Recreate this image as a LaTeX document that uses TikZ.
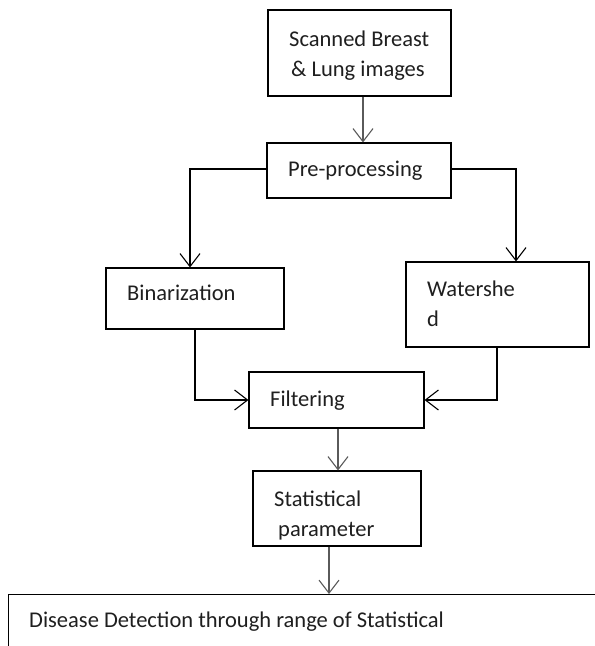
\documentclass[tikz,border=0pt]{standalone}
\usepackage{fontspec}
\setmainfont{Carlito}
\usetikzlibrary{arrows.meta}
\definecolor{arrgray}{RGB}{90,90,90}
\tikzset{
  box/.style={draw=black, line width=1.1pt, fill=white, inner sep=0pt},
  txt/.style={anchor=base west, inner sep=0pt, font=\fontsize{22.5}{27}\selectfont, text=black!88},
  conn/.style={draw=black, line width=1.1pt, -{Straight Barb[length=13pt,width=20pt,line width=1.1pt]}},
  gconn/.style={draw=arrgray, line width=1.3pt, -{Straight Barb[length=13pt,width=20pt,line width=1.1pt]}}
}
\begin{document}
\begin{tikzpicture}[x=1pt,y=-1pt]
\useasboundingbox (0,0) rectangle (595,646);
\clip (0,0) rectangle (595,646);
% boxes
\node[box, minimum width=183pt, minimum height=86pt] (scan) at (359.5,53) {};
\node[box, minimum width=184pt, minimum height=55pt] (pre) at (359,170.5) {};
\node[box, minimum width=178pt, minimum height=61pt] (bin) at (195,298.5) {};
\node[box, minimum width=183pt, minimum height=85pt] (wat) at (497.5,304.5) {};
\node[box, minimum width=175pt, minimum height=56pt] (fil) at (336.5,400) {};
\node[box, minimum width=168pt, minimum height=75pt] (stat) at (337,508.5) {};
\node[box, anchor=north west, minimum width=640pt, minimum height=120pt] (dis) at (8,594) {};
% texts
\node[txt] (t1) at (289,46) {Scanned Breast};
\node[txt] (t2) at (291,76) {\& Lung images};
\node[txt] (t3) at (288,176) {Pre-processing};
\node[txt] (t4) at (127,300) {Binarization};
\node[txt] (t5) at (427,296.5) {Watershe};
\node[txt] (t6) at (427,326) {d};
\node[txt] (t7) at (270,406) {Filtering};
\node[txt] (t8) at (274,506) {Statistical};
\node[txt] (t9) at (278,536) {parameter};
\node[txt] (t10) at (29,627) {Disease Detection through range of Statistical};
% connectors
\draw[gconn] ([xshift=3.5pt]scan.south) -- ([xshift=3.5pt]scan.south |- pre.north);
\draw[conn] ([yshift=1.5pt]pre.west) -| ([xshift=-5pt]bin.north);
\draw[conn] ([yshift=1.5pt]pre.east) -| ([xshift=18.5pt]wat.north);
\draw[conn] (bin.south) |- (fil.west);
\draw[conn] ([xshift=-0.5pt]wat.south) |- (fil.east);
\draw[gconn] ([xshift=1.5pt]fil.south) -- ([xshift=1.5pt]fil.south |- stat.north);
\draw[gconn] ([xshift=-8pt]stat.south) -- ([xshift=-8pt]stat.south |- dis.north);
\end{tikzpicture}
\end{document}
